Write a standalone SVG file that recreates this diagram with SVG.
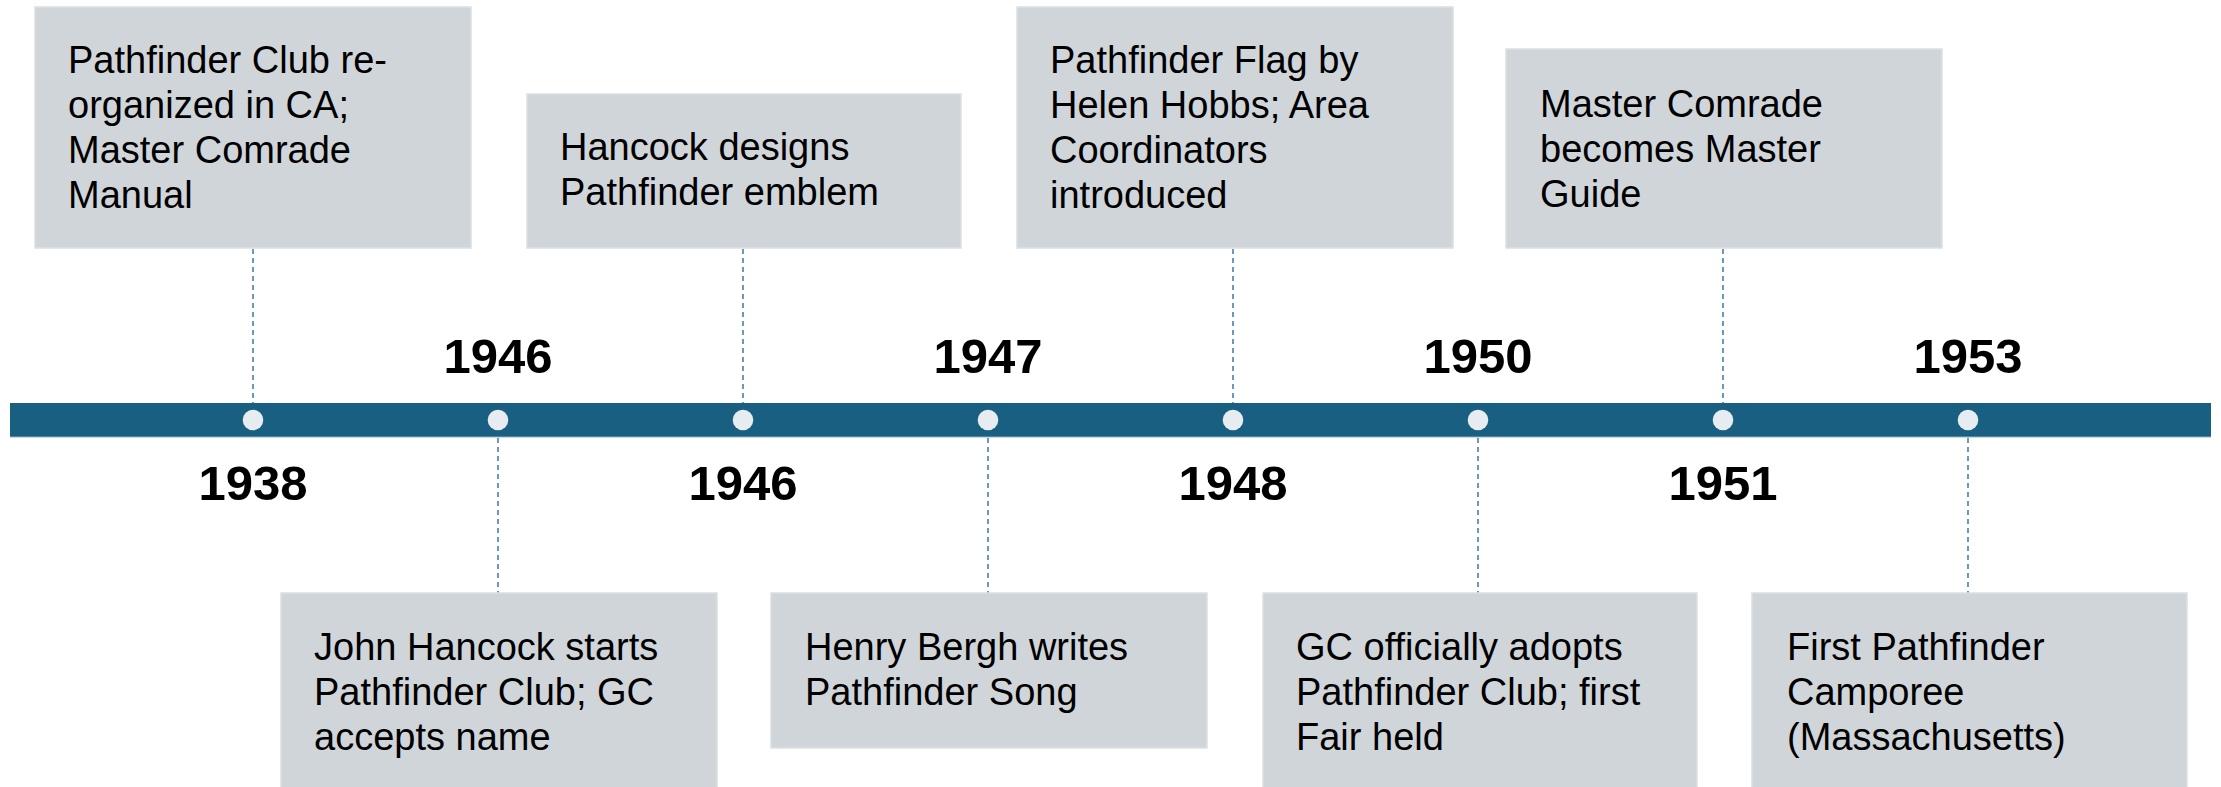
<svg xmlns="http://www.w3.org/2000/svg" width="2221" height="787" viewBox="0 0 2221 787">
<style>
.box{fill:#d0d5da;stroke:#dce0e4;stroke-width:1.5}
.txt{font-family:"Liberation Sans",Arial,sans-serif;font-size:38px;fill:#000}
.yr{font-family:"Liberation Sans",Arial,sans-serif;font-size:49px;font-weight:bold;fill:#000;text-anchor:middle}
.dash{stroke:#2d6fa0;stroke-width:1.4;stroke-dasharray:5 4;fill:none}
.dot{fill:#e6ecf0}
</style>
<rect width="2221" height="787" fill="#ffffff"/>
<g id="connectors">
<line class="dash" x1="253" y1="249" x2="253" y2="403"/>
<line class="dash" x1="498" y1="438" x2="498" y2="593"/>
<line class="dash" x1="743" y1="249" x2="743" y2="403"/>
<line class="dash" x1="988" y1="438" x2="988" y2="593"/>
<line class="dash" x1="1233" y1="249" x2="1233" y2="403"/>
<line class="dash" x1="1478" y1="438" x2="1478" y2="593"/>
<line class="dash" x1="1723" y1="249" x2="1723" y2="403"/>
<line class="dash" x1="1968" y1="438" x2="1968" y2="593"/>
</g>
<g id="timeline">
<rect x="10" y="403" width="2201" height="34" fill="#185f81"/>
<line x1="10" y1="437" x2="2211" y2="437" stroke="#8fb0c4" stroke-width="1"/>
<circle class="dot" cx="253" cy="420" r="10.3"/>
<circle class="dot" cx="498" cy="420" r="10.3"/>
<circle class="dot" cx="743" cy="420" r="10.3"/>
<circle class="dot" cx="988" cy="420" r="10.3"/>
<circle class="dot" cx="1233" cy="420" r="10.3"/>
<circle class="dot" cx="1478" cy="420" r="10.3"/>
<circle class="dot" cx="1723" cy="420" r="10.3"/>
<circle class="dot" cx="1968" cy="420" r="10.3"/>
</g>
<g id="years">
<text class="yr" x="253" y="500">1938</text>
<text class="yr" x="498" y="373">1946</text>
<text class="yr" x="743" y="500">1946</text>
<text class="yr" x="988" y="373">1947</text>
<text class="yr" x="1233" y="500">1948</text>
<text class="yr" x="1478" y="373">1950</text>
<text class="yr" x="1723" y="500">1951</text>
<text class="yr" x="1968" y="373">1953</text>
</g>
<g id="node-1938">
<rect class="box" x="35" y="7" width="436" height="241"/>
<text class="txt" x="68" y="73">Pathfinder Club re-</text>
<text class="txt" x="68" y="118">organized in CA;</text>
<text class="txt" x="68" y="163">Master Comrade</text>
<text class="txt" x="68" y="208">Manual</text>
</g>
<g id="node-1946a">
<rect class="box" x="281" y="593" width="436" height="200"/>
<text class="txt" x="314" y="660">John Hancock starts</text>
<text class="txt" x="314" y="705">Pathfinder Club; GC</text>
<text class="txt" x="314" y="750">accepts name</text>
</g>
<g id="node-1946b">
<rect class="box" x="527" y="94" width="434" height="154"/>
<text class="txt" x="560" y="160">Hancock designs</text>
<text class="txt" x="560" y="205">Pathfinder emblem</text>
</g>
<g id="node-1947">
<rect class="box" x="771" y="593" width="436" height="155"/>
<text class="txt" x="805" y="660">Henry Bergh writes</text>
<text class="txt" x="805" y="705">Pathfinder Song</text>
</g>
<g id="node-1948">
<rect class="box" x="1017" y="7" width="436" height="241"/>
<text class="txt" x="1050" y="73">Pathfinder Flag by</text>
<text class="txt" x="1050" y="118">Helen Hobbs; Area</text>
<text class="txt" x="1050" y="163">Coordinators</text>
<text class="txt" x="1050" y="208">introduced</text>
</g>
<g id="node-1950">
<rect class="box" x="1263" y="593" width="434" height="200"/>
<text class="txt" x="1296" y="660">GC officially adopts</text>
<text class="txt" x="1296" y="705">Pathfinder Club; first</text>
<text class="txt" x="1296" y="750">Fair held</text>
</g>
<g id="node-1951">
<rect class="box" x="1506" y="49" width="436" height="199"/>
<text class="txt" x="1540" y="117">Master Comrade</text>
<text class="txt" x="1540" y="162">becomes Master</text>
<text class="txt" x="1540" y="207">Guide</text>
</g>
<g id="node-1953">
<rect class="box" x="1752" y="593" width="435" height="200"/>
<text class="txt" x="1787" y="660">First Pathfinder</text>
<text class="txt" x="1787" y="705">Camporee</text>
<text class="txt" x="1787" y="750">(Massachusetts)</text>
</g>
</svg>
